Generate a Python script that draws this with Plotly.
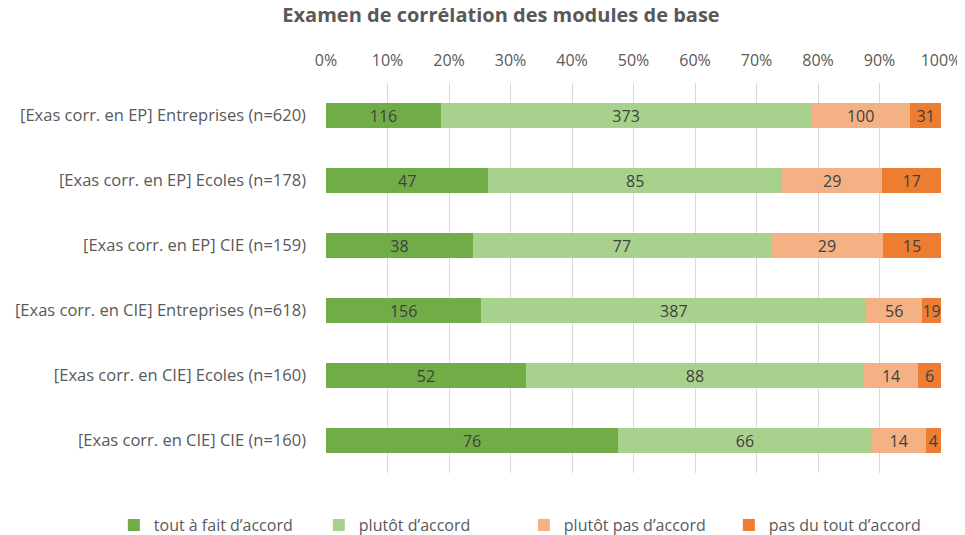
import plotly.graph_objects as go

categories = [
    "[Exas corr. en EP] Entreprises (n=620)",
    "[Exas corr. en EP] Ecoles (n=178)",
    "[Exas corr. en EP] CIE (n=159)",
    "[Exas corr. en CIE] Entreprises (n=618)",
    "[Exas corr. en CIE] Ecoles (n=160)",
    "[Exas corr. en CIE] CIE (n=160)",
]
tout_a_fait = [116, 47, 38, 156, 52, 76]
plutot = [373, 85, 77, 387, 88, 66]
plutot_pas = [100, 29, 29, 56, 14, 14]
pas_du_tout = [31, 17, 15, 19, 6, 4]

series = [
    ("tout à fait d’accord", tout_a_fait, "#70AD47"),
    ("plutôt d’accord", plutot, "#A9D18E"),
    ("plutôt pas d’accord", plutot_pas, "#F4B183"),
    ("pas du tout d’accord", pas_du_tout, "#ED7D31"),
]

FONT = "'Open Sans', sans-serif"

fig = go.Figure()
for name, vals, color in series:
    fig.add_trace(go.Bar(
        y=categories, x=vals, name=name, orientation="h",
        marker=dict(color=color, line=dict(width=0)),
        text=vals, textposition="inside", insidetextanchor="middle", textangle=0,
        textfont=dict(color="#404040", size=16, family=FONT),
    ))

# page body has an 8px margin, so the figure is sized to fit the window
fig.update_layout(
    barmode="stack", barnorm="percent", bargap=0.615,
    width=957, height=527,
    margin=dict(l=318, r=24, t=75, b=62, autoexpand=False),
    plot_bgcolor="white", paper_bgcolor="white",
    font=dict(family=FONT, size=16, color="#595959"),
    title=dict(text="<b>Examen de corrélation des modules de base</b>",
               x=493 / 957, xanchor="center", yref="container", y=1, yanchor="top",
               pad=dict(t=0), font=dict(size=20, color="#595959")),
    uniformtext=dict(minsize=16, mode="show"),
    legend=dict(orientation="h", x=-0.345, xanchor="left", y=-0.09, yanchor="top",
                font=dict(size=16, color="#595959"), traceorder="normal",
                itemwidth=30, entrywidth=160, entrywidthmode="pixels"),
    showlegend=True,
)
fig.update_xaxes(side="top", range=[0, 100], dtick=10, ticksuffix="%",
                 showgrid=True, gridcolor="#D9D9D9", gridwidth=1,
                 zeroline=False, showline=False, ticklabelstandoff=13,
                 automargin=False, tickfont=dict(size=16, color="#595959"))
fig.update_yaxes(autorange="reversed", showgrid=False, ticklabelstandoff=19,
                 automargin=False, tickfont=dict(size=16.5, color="#595959"))

fig.write_html("out.html")
